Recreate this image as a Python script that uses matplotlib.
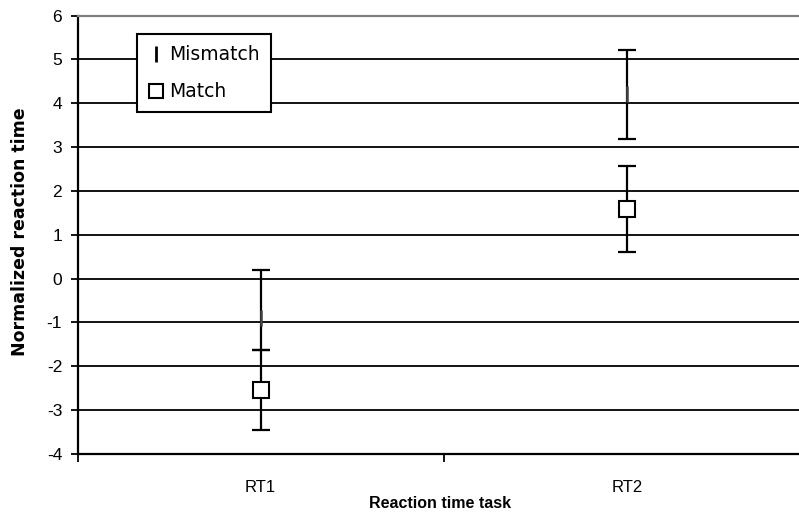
import matplotlib.pyplot as plt
from matplotlib.lines import Line2D

plt.rcParams['font.family'] = ['Liberation Sans', 'DejaVu Sans']
plt.rcParams['axes.unicode_minus'] = False

# Mean normalized reaction time per task, with error ranges
tasks = ["RT1", "RT2"]
mismatch_mean = [-0.89, 4.20]
mismatch_err_low = [0.74, 1.02]
mismatch_err_high = [1.09, 1.02]
match_mean = [-2.54, 1.58]
match_err = [0.91, 0.98]

y_ticks = list(range(-4, 7))

W, H = 799, 514
fig = plt.figure(figsize=(W / 100, H / 100), dpi=100)
ax = fig.add_axes([77.5 / W, (H - 454) / H, (810 - 77.5) / W, (454 - 15.5) / H])

xpos = [0.5, 1.5]

# gridlines (black, Excel style)
for v in y_ticks[1:-1]:
    ax.axhline(v, color='black', lw=1.3, zorder=1)

ax.errorbar(xpos, mismatch_mean, yerr=[mismatch_err_low, mismatch_err_high],
            fmt='none', ecolor='black', elinewidth=1.6, capsize=6.5, capthick=1.6, zorder=3)
ax.errorbar(xpos, match_mean, yerr=match_err,
            fmt='none', ecolor='black', elinewidth=1.6, capsize=6.5, capthick=1.6, zorder=3)

ax.plot(xpos, mismatch_mean, ls='none', marker='|', ms=12, mew=1.8,
        color='#444444', zorder=4)
ax.plot(xpos, match_mean, ls='none', marker='s', ms=12, mew=1.5,
        mfc='white', mec='black', zorder=5)

ax.set_xlim(0, 2)
ax.set_ylim(-4, 6)
ax.set_yticks(y_ticks)
ax.set_xticks([0, 1, 2])
ax.set_xticklabels([])
ax.set_xticks(xpos, minor=True)
ax.set_xticklabels(tasks, minor=True)
ax.tick_params(axis='x', which='major', direction='out', length=6, width=1.3)
ax.tick_params(axis='x', which='minor', length=0, pad=19, labelsize=12)
ax.tick_params(axis='y', direction='out', length=5, width=1.3, pad=6, labelsize=12.5)

for s in ['left', 'bottom']:
    ax.spines[s].set_linewidth(1.6)
    ax.spines[s].set_color('black')
ax.spines['top'].set_color('#808080')
ax.spines['top'].set_linewidth(1.6)
ax.spines['right'].set_visible(False)

fig.text(20 / W, 1 - 232 / H, "Normalized reaction time", rotation=90,
         ha='center', va='center', fontsize=12.5, fontweight='bold',
         family='DejaVu Sans')
fig.text(440 / W, 1 - 503 / H, "Reaction time task",
         ha='center', va='center', fontsize=11.5, fontweight='bold')

handles = [
    Line2D([], [], ls='none', marker='|', ms=11, mew=2, color='black'),
    Line2D([], [], ls='none', marker='s', ms=10, mew=1.5, mfc='white', mec='black'),
]
leg = fig.legend(handles, ["Mismatch", "Match"], loc='upper left',
                 bbox_to_anchor=(137 / W, 1 - 34 / H),
                 prop={'family': 'DejaVu Sans', 'size': 13.5},
                 frameon=True, fancybox=False, framealpha=1, edgecolor='black',
                 handlelength=0.8, handletextpad=0.3, labelspacing=0.95,
                 borderpad=0.6, borderaxespad=0)
leg.get_frame().set_linewidth(1.5)

fig.savefig("out.png", dpi=100)
